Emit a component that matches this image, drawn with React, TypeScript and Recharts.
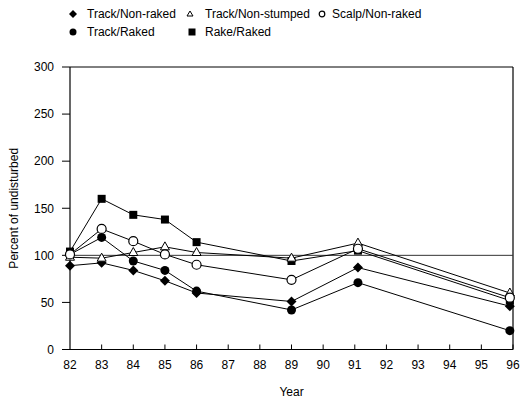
import {
    LineChart,
    Line,
    XAxis,
    YAxis,
    ReferenceLine,
} from 'recharts';

const years = [82, 83, 84, 85, 86, 89, 91.1, 95.9];
const trackNonRaked = [89, 92, 84, 73, 60, 51, 87, 46];
const trackNonStumped = [98, 97, 103, 109, 103, 97, 113, 60];
const scalpNonRaked = [101, 128, 115, 101, 90, 74, 107, 55];
const trackRaked = [101, 119, 94, 84, 62, 42, 71, 20];
const rakeRaked = [104, 160, 143, 138, 114, 94, 105, 52];

const xTicks = [82, 83, 84, 85, 86, 87, 88, 89, 90, 91, 92, 93, 94, 95, 96];
const yTicks = [0, 50, 100, 150, 200, 250, 300];

const data = years.map((year, i) => ({
    year,
    trackNonRaked: trackNonRaked[i],
    trackNonStumped: trackNonStumped[i],
    scalpNonRaked: scalpNonRaked[i],
    trackRaked: trackRaked[i],
    rakeRaked: rakeRaked[i],
}));

const font = "'Liberation Sans', Arial, sans-serif";

// marker shapes
const DiamondDot = (props: any) => {
    const { cx, cy, index } = props;
    const s = 5;
    return (
        <path
            key={`d-${index}`}
            d={`M${cx},${cy - s} L${cx + s},${cy} L${cx},${cy + s} L${cx - s},${cy} Z`}
            fill="#000"
        />
    );
};

const TriangleDot = (props: any) => {
    const { cx, cy, index } = props;
    return (
        <path
            key={`t-${index}`}
            d={`M${cx},${cy - 5} L${cx + 4.5},${cy + 3} L${cx - 4.5},${cy + 3} Z`}
            fill="#fff"
            stroke="#000"
            strokeWidth={1}
        />
    );
};

const OpenCircleDot = (props: any) => {
    const { cx, cy, index } = props;
    return <circle key={`o-${index}`} cx={cx} cy={cy} r={4.5} fill="#fff" stroke="#000" strokeWidth={1.2} />;
};

const FilledCircleDot = (props: any) => {
    const { cx, cy, index } = props;
    return <circle key={`c-${index}`} cx={cx} cy={cy} r={4.5} fill="#000" />;
};

const SquareDot = (props: any) => {
    const { cx, cy, index } = props;
    return <rect key={`s-${index}`} x={cx - 4} y={cy - 4} width={8} height={8} fill="#000" />;
};

// x ticks point up into the plot
const XTick = (props: any) => {
    const { x, y, payload } = props;
    return (
        <g>
            {payload.value !== 82 && (
                <line x1={x} x2={x} y1={y} y2={y - 5} stroke="#000" strokeWidth={1} />
            )}
            <text x={x} y={y + 11} dy="0.71em" textAnchor="middle" fill="#000" fontSize={12} fontFamily={font}>
                {payload.value}
            </text>
        </g>
    );
};

const legendIcon = (kind: string) => {
    switch (kind) {
        case 'diamond':
            return <path d="M6,2 L10,6 L6,10 L2,6 Z" fill="#000" />;
        case 'triangle':
            return <path d="M6,3 L9,8 L3,8 Z" fill="#fff" stroke="#000" strokeWidth={1} />;
        case 'open':
            return <circle cx={6} cy={6} r={2.8} fill="#fff" stroke="#000" strokeWidth={1.2} />;
        case 'filled':
            return <circle cx={6} cy={6} r={3.5} fill="#000" />;
        default:
            return <rect x={2.5} y={2.5} width={7} height={7} fill="#000" />;
    }
};

const legendItems = [
    { label: 'Track/Non-raked', kind: 'diamond', x: 67, y: 8 },
    { label: 'Track/Non-stumped', kind: 'triangle', x: 184, y: 8 },
    { label: 'Scalp/Non-raked', kind: 'open', x: 316, y: 8 },
    { label: 'Track/Raked', kind: 'filled', x: 67, y: 26 },
    { label: 'Rake/Raked', kind: 'square', x: 186, y: 26 },
];

const textGap: Record<string, number> = { diamond: 20, triangle: 21, open: 16, filled: 20, square: 19 };

const App = () => {
    return (
        <div style={{ position: 'absolute', left: 0, top: 0, width: 520, height: 402, background: '#fff' }}>
            {legendItems.map((it) => (
                <div
                    key={it.label}
                    style={{
                        position: 'absolute',
                        left: it.x,
                        top: it.y,
                        height: 12,
                        display: 'flex',
                        alignItems: 'center',
                        fontFamily: font,
                        fontSize: 12,
                        color: '#000',
                        whiteSpace: 'nowrap',
                    }}
                >
                    <svg width={12} height={12} style={{ display: 'block' }}>
                        {legendIcon(it.kind)}
                    </svg>
                    <span style={{ marginLeft: textGap[it.kind] - 12, lineHeight: '12px' }}>{it.label}</span>
                </div>
            ))}
            <LineChart
                width={520}
                height={402}
                data={data}
                margin={{ top: 67, right: 7, bottom: 0, left: 0 }}
                style={{ position: 'absolute', left: 0, top: 0 }}
            >
                <XAxis
                    dataKey="year"
                    type="number"
                    domain={[82, 96]}
                    ticks={xTicks}
                    interval={0}
                    height={52.5}
                    tickLine={false}
                    tickSize={0}
                    tickMargin={0}
                    tick={<XTick />}
                    axisLine={{ stroke: '#000', strokeWidth: 1.2 }}
                    label={{
                        value: 'Year',
                        position: 'insideBottom',
                        offset: 6,
                        style: { fontSize: 12, fontFamily: font, fill: '#000' },
                    }}
                />
                <YAxis
                    type="number"
                    domain={[0, 300]}
                    ticks={yTicks}
                    interval={0}
                    width={70}
                    tickSize={8}
                    tickMargin={8}
                    tickLine={{ stroke: '#000', strokeWidth: 1 }}
                    axisLine={{ stroke: '#000', strokeWidth: 1.2 }}
                    tick={{ fill: '#000', fontSize: 12, fontFamily: font }}
                    label={{
                        value: 'Percent of undisturbed',
                        angle: -90,
                        position: 'insideLeft',
                        offset: 14,
                        style: { fontSize: 12, fontFamily: font, fill: '#000', textAnchor: 'middle' },
                    }}
                />
                <ReferenceLine y={300} stroke="#000" strokeWidth={1} />
                <ReferenceLine x={96} stroke="#000" strokeWidth={1.2} />
                <ReferenceLine y={100} stroke="#333" strokeWidth={1} />
                <Line dataKey="trackNonRaked" stroke="#000" strokeWidth={1} dot={DiamondDot} isAnimationActive={false} />
                <Line dataKey="trackRaked" stroke="#000" strokeWidth={1} dot={FilledCircleDot} isAnimationActive={false} />
                <Line dataKey="rakeRaked" stroke="#000" strokeWidth={1} dot={SquareDot} isAnimationActive={false} />
                <Line dataKey="trackNonStumped" stroke="#000" strokeWidth={1} dot={TriangleDot} isAnimationActive={false} />
                <Line dataKey="scalpNonRaked" stroke="#000" strokeWidth={1} dot={OpenCircleDot} isAnimationActive={false} />
            </LineChart>
        </div>
    );
};

export default App;
